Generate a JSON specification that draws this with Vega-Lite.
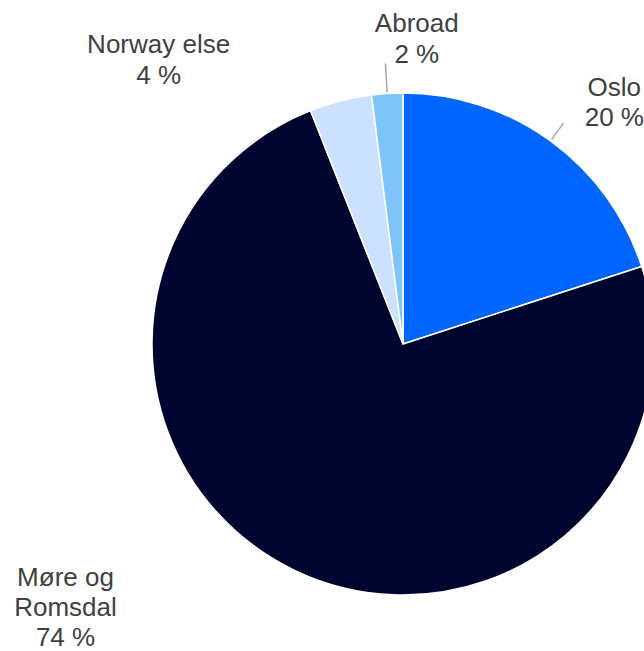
{
  "$schema": "https://vega.github.io/schema/vega-lite/v6.json",
  "width": 806,
  "height": 688,
  "autosize": "none",
  "padding": 0,
  "background": "white",
  "view": {"stroke": null},
  "data": {
    "values": [
      {"region": "Oslo", "share": 20, "order": 1},
      {"region": "Møre og Romsdal", "share": 74, "order": 2},
      {"region": "Norway else", "share": 4, "order": 3},
      {"region": "Abroad", "share": 2, "order": 4}
    ]
  },
  "transform": [
    {"stack": "share", "groupby": [], "sort": [{"field": "order", "order": "ascending"}], "as": ["v0", "v1"]},
    {"calculate": "(datum.v0 + datum.v1) / 2", "as": "mid"},
    {"calculate": "replace(datum.region, 'og ', 'og\\n') + '\\n' + datum.share + ' %'", "as": "label"}
  ],
  "layer": [
    {
      "mark": {"type": "arc", "outerRadius": 251, "stroke": "white", "strokeWidth": 1.5},
      "encoding": {
        "theta": {"field": "v0", "type": "quantitative", "stack": null, "scale": {"domain": [0, 100]}},
        "theta2": {"field": "v1"},
        "color": {
          "field": "region",
          "type": "nominal",
          "legend": null,
          "scale": {
            "domain": ["Oslo", "Møre og Romsdal", "Norway else", "Abroad"],
            "range": ["#0066FF", "#00052F", "#CCE0FF", "#7FC4F9"]
          }
        }
      }
    },
    {
      "transform": [{"filter": "datum.region === 'Abroad'"}],
      "mark": {"type": "arc", "innerRadius": 252, "outerRadius": 281, "fillOpacity": 0, "stroke": "#A6A6A6", "strokeWidth": 1.5},
      "encoding": {
        "theta": {"field": "mid", "type": "quantitative", "stack": null},
        "theta2": {"field": "mid"}
      }
    },
    {
      "transform": [{"filter": "datum.region === 'Oslo'"}],
      "mark": {"type": "arc", "innerRadius": 253, "outerRadius": 273, "fillOpacity": 0, "stroke": "#A6A6A6", "strokeWidth": 1.5},
      "encoding": {
        "theta": {"field": "mid", "type": "quantitative", "stack": null},
        "theta2": {"field": "mid"}
      }
    },
    {
      "transform": [{"filter": "datum.region === 'Abroad'"}],
      "mark": {"type": "text", "radius": 306, "dx": 33, "dy": -15, "fontSize": 26, "font": "Liberation Sans", "fill": "#404040", "lineHeight": 31, "lineBreak": "\n", "align": "center", "baseline": "middle"},
      "encoding": {
        "theta": {"field": "mid", "type": "quantitative", "stack": null},
        "text": {"field": "label"}
      }
    },
    {
      "transform": [{"filter": "datum.region === 'Oslo'"}],
      "mark": {"type": "text", "radius": 300, "dx": 35, "dy": -13, "fontSize": 26, "font": "Liberation Sans", "fill": "#404040", "lineHeight": 30, "lineBreak": "\n", "align": "center", "baseline": "middle"},
      "encoding": {
        "theta": {"field": "mid", "type": "quantitative", "stack": null},
        "text": {"field": "label"}
      }
    },
    {
      "transform": [{"filter": "datum.region === 'Norway else'"}],
      "mark": {"type": "text", "radius": 295, "dx": -171, "dy": -13, "fontSize": 26, "font": "Liberation Sans", "fill": "#404040", "lineHeight": 31, "lineBreak": "\n", "align": "center", "baseline": "middle"},
      "encoding": {
        "theta": {"field": "mid", "type": "quantitative", "stack": null},
        "text": {"field": "label"}
      }
    },
    {
      "transform": [{"filter": "datum.region === 'Møre og Romsdal'"}],
      "mark": {"type": "text", "radius": 290, "dx": -214, "dy": -28, "fontSize": 26, "font": "Liberation Sans", "fill": "#404040", "lineHeight": 30, "lineBreak": "\n", "align": "center", "baseline": "middle"},
      "encoding": {
        "theta": {"field": "mid", "type": "quantitative", "stack": null},
        "text": {"field": "label"}
      }
    }
  ]
}
